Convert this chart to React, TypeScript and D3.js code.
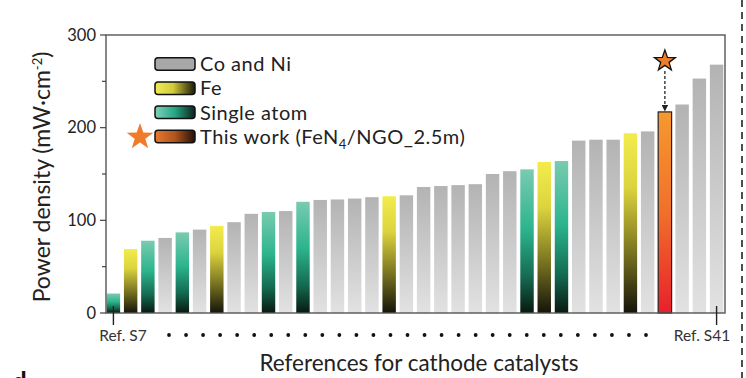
import React from "react";
import * as d3 from "d3";

// ---- data ----
const refIndex: number[] = Array.from({ length: 36 }, (_, i) => i);
const values: number[] = [
  21, 69, 78, 81, 87, 90, 94, 98, 107, 109, 110, 120, 122, 122.5, 123.5, 125, 126, 127,
  136, 137, 138, 139, 150, 153, 155, 163, 164, 186, 187, 187, 194, 196, 217, 225, 253, 268,
];
// g = Co and Ni, f = Fe, s = Single atom, t = This work
const kinds: string[] = [
  "s", "f", "s", "g", "s", "g", "f", "g", "g", "s", "g", "s", "g", "g", "g", "g", "f", "g",
  "g", "g", "g", "g", "g", "g", "s", "f", "s", "g", "g", "g", "f", "g", "t", "g", "g", "g",
];
const yTicks: number[] = [0, 100, 200, 300];
const yMinor: number[] = [50, 150, 250];
const legendLabels: string[] = ["Co and Ni", "Fe", "Single atom", "This work"];
const legendKinds: string[] = ["g", "f", "s", "t"];
const firstRef = "Ref. S7";
const lastRef = "Ref. S41";
const dotCount = 29;

const W = 746;
const H = 378;
const FONT = "Lato, 'Open Sans', sans-serif";

function starPath(cx: number, cy: number, R: number) {
  const r = R * 0.4;
  const pts: string[] = [];
  for (let i = 0; i < 10; i++) {
    const rad = i % 2 === 0 ? R : r;
    const a = -Math.PI / 2 + (i * Math.PI) / 5;
    pts.push(`${cx + rad * Math.cos(a)},${cy + rad * Math.sin(a)}`);
  }
  return "M" + pts.join("L") + "Z";
}

export default function App() {
  const x = d3.scaleBand<number>().domain(refIndex).range([106, 724]).paddingInner(0.22).paddingOuter(0.04);
  const y = d3.scaleLinear().domain([0, 300]).range([313, 35]);
  const bw = x.bandwidth();
  const fillFor: Record<string, string> = { g: "url(#gG)", f: "url(#gF)", s: "url(#gS)", t: "url(#gT)" };
  const legFill: Record<string, string> = { g: "#a8a8a8", f: "url(#lF)", s: "url(#lS)", t: "url(#lT)" };

  const twIdx = kinds.indexOf("t");
  const twX = (x(twIdx) as number) + bw / 2;
  const twTop = y(values[twIdx]);

  const dotX = d3.scaleLinear().domain([0, dotCount - 1]).range([169, 646]);

  const legendY = d3.scaleLinear().domain([0, 3]).range([64, 136.5]);

  return (
    <svg width={W} height={H} style={{ position: "absolute", left: 0, top: 0 }} fontFamily={FONT}>
      <defs>
        <linearGradient id="gG" x1="0" y1="0" x2="0" y2="1">
          <stop offset="0" stopColor="#b3b3b3" />
          <stop offset="1" stopColor="#e2e2e2" />
        </linearGradient>
        <linearGradient id="gF" x1="0" y1="0" x2="0" y2="1">
          <stop offset="0" stopColor="#f3ec4c" />
          <stop offset="0.3" stopColor="#dcd43e" />
          <stop offset="0.65" stopColor="#7d7722" />
          <stop offset="1" stopColor="#15140a" />
        </linearGradient>
        <linearGradient id="gS" x1="0" y1="0" x2="0" y2="1">
          <stop offset="0" stopColor="#79cbb0" />
          <stop offset="0.42" stopColor="#2cb48d" />
          <stop offset="0.75" stopColor="#146a50" />
          <stop offset="1" stopColor="#08190f" />
        </linearGradient>
        <linearGradient id="gT" x1="0" y1="0" x2="0" y2="1">
          <stop offset="0" stopColor="#f6992f" />
          <stop offset="0.5" stopColor="#f0702a" />
          <stop offset="1" stopColor="#e8202b" />
        </linearGradient>
        <linearGradient id="lF" x1="0" y1="0" x2="1" y2="0">
          <stop offset="0" stopColor="#f2ec58" />
          <stop offset="0.45" stopColor="#d2cb3a" />
          <stop offset="1" stopColor="#1a190a" />
        </linearGradient>
        <linearGradient id="lS" x1="0" y1="0" x2="1" y2="0">
          <stop offset="0" stopColor="#80d2b9" />
          <stop offset="0.5" stopColor="#25a584" />
          <stop offset="1" stopColor="#0c2219" />
        </linearGradient>
        <linearGradient id="lT" x1="0" y1="0" x2="1" y2="0">
          <stop offset="0" stopColor="#e8792e" />
          <stop offset="0.5" stopColor="#b0541e" />
          <stop offset="1" stopColor="#241008" />
        </linearGradient>
        <marker id="arr" viewBox="0 0 10 10" refX="9" refY="5" markerWidth="5" markerHeight="5" orient="auto">
          <path d="M0,0L10,5L0,10Z" fill="#222" />
        </marker>
      </defs>

      {/* bars */}
      {values.map((v, i) => (
        <rect
          key={i}
          x={x(i)}
          y={y(v)}
          width={bw}
          height={y(0) - y(v)}
          fill={fillFor[kinds[i]]}
          stroke={kinds[i] === "t" ? "#222" : "none"}
          strokeWidth={1.2}
        />
      ))}

      {/* frame */}
      <rect x={106} y={35} width={619} height={278} fill="none" stroke="#555" strokeWidth={1.4} />

      {/* y ticks */}
      {yTicks.map((t) => (
        <g key={t}>
          <line x1={100} x2={106} y1={y(t)} y2={y(t)} stroke="#444" strokeWidth={1.2} />
          <text x={96} y={y(t)} dy="0.35em" textAnchor="end" fontSize={16.5} fill="#222">
            {t}
          </text>
        </g>
      ))}
      {yMinor.map((t) => (
        <line key={t} x1={102} x2={106} y1={y(t)} y2={y(t)} stroke="#444" strokeWidth={1.2} />
      ))}

      {/* reference ticks & labels */}
      <line x1={(x(0) as number) + bw / 2} x2={(x(0) as number) + bw / 2} y1={306} y2={325} stroke="#222" strokeWidth={1.4} />
      <line x1={(x(35) as number) + bw / 2} x2={(x(35) as number) + bw / 2} y1={306} y2={325} stroke="#222" strokeWidth={1.4} />
      <text x={123} y={341} textAnchor="middle" fontSize={15.5} fill="#333">
        {firstRef}
      </text>
      <text x={702} y={341} textAnchor="middle" fontSize={15.5} fill="#333">
        {lastRef}
      </text>
      {d3.range(dotCount).map((i) => (
        <circle key={i} cx={dotX(i)} cy={335} r={1.9} fill="#111" />
      ))}

      {/* axis titles */}
      <text x={419} y={371} textAnchor="middle" fontSize={22.5} fill="#222">
        References for cathode catalysts
      </text>
      <text transform="translate(50,177) rotate(-90)" textAnchor="middle" fontSize={23} fill="#222">
        Power density (mW·cm<tspan dy={-8} fontSize={13}>-2</tspan>
        <tspan dy={8}>)</tspan>
      </text>

      {/* legend */}
      {legendLabels.map((lab, i) => (
        <g key={lab}>
          <rect x={155} y={legendY(i) - 6.25} width={40} height={12.5} rx={3} fill={legFill[legendKinds[i]]} stroke="#111" strokeWidth={1.5} />
          {legendKinds[i] === "t" ? (
            <text x={200} y={legendY(i)} dy="0.36em" fontSize={20} letterSpacing={0.5} fill="#222">
              This work (FeN<tspan dy={5} fontSize={13}>4</tspan>
              <tspan dy={-5}>/NGO_2.5m)</tspan>
            </text>
          ) : (
            <text x={200} y={legendY(i)} dy="0.36em" fontSize={20} letterSpacing={0.5} fill="#222">
              {lab}
            </text>
          )}
        </g>
      ))}
      <path d={starPath(140, 137, 14)} fill="#f07b2a" />

      {/* this-work marker */}
      <path d={starPath(twX, 61, 11)} fill="#f07b2a" stroke="#111" strokeWidth={1.3} />
      <line x1={twX} x2={twX} y1={71} y2={twTop - 1} stroke="#222" strokeWidth={1.3} strokeDasharray="3 2" markerEnd="url(#arr)" />

      {/* panel separator */}
      <line x1={742} x2={742} y1={0} y2={H} stroke="#222" strokeWidth={1.6} strokeDasharray="7 5" />

      {/* panel letter (cut off at the bottom edge, as in the reference) */}
      <text x={12} y={391} fontSize={26} fontWeight="bold" fill="#111">
        d
      </text>
    </svg>
  );
}
